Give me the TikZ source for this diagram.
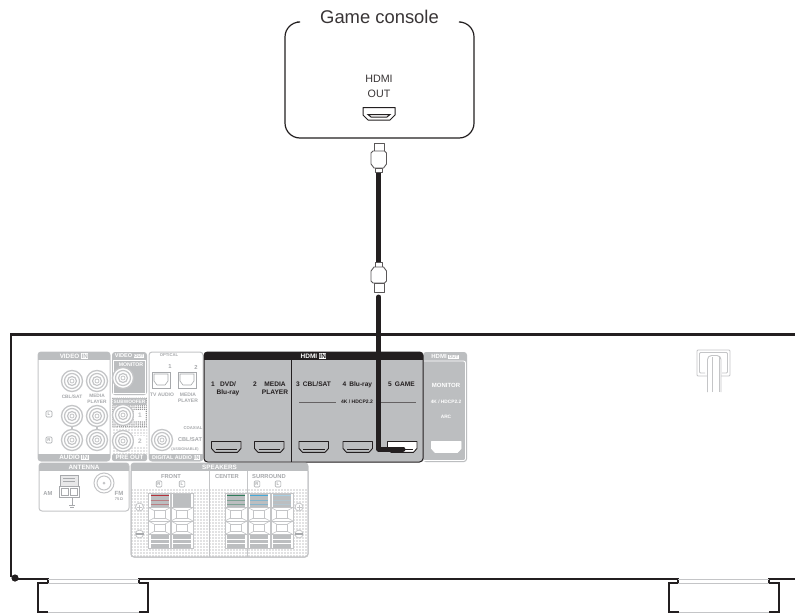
\documentclass[tikz,border=0pt]{standalone}
\usepackage{fontspec}
\setmainfont{Liberation Sans}
\usetikzlibrary{patterns.meta}
\definecolor{panelgray}{HTML}{BCBEC0}
\definecolor{lightline}{HTML}{C4C5C7}
\definecolor{darkink}{HTML}{231F20}
\definecolor{midtext}{HTML}{A7A9AC}
\newcommand\fsz[1]{\fontsize{#1}{#1}\selectfont\setlength{\baselineskip}{1.15\baselineskip}}
\newcommand\invbox[2]{{\setlength{\fboxsep}{0.4pt}\colorbox{white}{\textcolor{#1}{#2}}}}
% RCA jack
\newcommand\rcajack[2]{%
  \draw[lightline,line width=1.3pt,fill=white] (#1,#2) circle (10.5);
  \draw[lightline,line width=1.2pt] (#1,#2) circle (7.5);
  \draw[lightline,line width=1.2pt] (#1,#2) circle (4.5);
  \draw[lightline,line width=.8pt] (#1,#2) circle (2);
}
% HDMI port: x y fill draw
\newcommand\hdmiport[4]{%
  \draw[#4,line width=.9pt,fill=#3,line join=round]
    (#1,#2) -- ++(29.5,0) -- ++(0,7) -- ++(-3.5,3.8) -- ++(-22.5,0) -- ++(-3.5,-3.8) -- cycle;
  \draw[#4,line width=.7pt] (#1+4,#2+7.8) -- ++(21.5,0);
}
% speaker terminal column: x, colour of the top mark
\newcommand\spkcol[2]{%
  \fill[white] (#1,493) rectangle ++(22,55);
  \draw[lightline,line width=.8pt] (#1,493) rectangle ++(22,55);
  \fill[panelgray] (#1+2,494) rectangle ++(18,13);
  \fill[panelgray] (#1+2,535) rectangle ++(18,13);
  \draw[#2,line width=.9pt] (#1+2,495.5) -- ++(18,0);
  \draw[#2!45!panelgray,line width=.7pt] (#1+2,500) -- ++(18,0) (#1+2,504) -- ++(18,0);
  \draw[white,line width=.6pt] (#1+2,539) -- ++(18,0) (#1+2,543) -- ++(18,0);
  \draw[lightline,line width=.8pt] (#1,507.5) -- ++(22,0) (#1,521) -- ++(22,0) (#1,534.5) -- ++(22,0);
  \draw[lightline,line width=.9pt] (#1+5.5,510.5) rectangle ++(11,7.5) (#1+5.5,524) rectangle ++(11,7.5);
  \draw[lightline,line width=.6pt] (#1,507.5) -- (#1+5.5,510.5) (#1+22,507.5) -- (#1+16.5,510.5)
     (#1,521) -- (#1+5.5,518) (#1+22,521) -- (#1+16.5,518)
     (#1,521) -- (#1+5.5,524) (#1+22,521) -- (#1+16.5,524)
     (#1,534.5) -- (#1+5.5,531.5) (#1+22,534.5) -- (#1+16.5,531.5);
}
\newcommand\opticalport[2]{%
  \draw[midtext,line width=.7pt,fill=white] (#1,#2) rectangle ++(18,16);
  \draw[midtext,line width=.6pt] (#1+2,#2+2) -- ++(14,0) -- ++(0,7) -- ++(-3,4) -- ++(-8,0) -- ++(-3,-4) -- cycle;
}
\tikzset{
  chassis/.style={darkink,line width=2.8pt,line cap=butt},
  footgray/.style={lightline,line width=1pt},
  panel/.style={lightline,line width=1pt,fill=white,rounded corners=3pt},
  hdr/.style={fill=panelgray,draw=none},
  head/.style={text=white,font=\fsz{6.3}\bfseries,inner sep=0pt},
  smallwhite/.style={text=white,font=\fsz{5.2}\bfseries,inner sep=0pt,align=center},
  grayt/.style={text=midtext,font=\fsz{5.8}\bfseries,inner sep=0pt,align=center},
  tinygray/.style={text=midtext,font=\fsz{4.2}\bfseries,inner sep=0pt,align=center},
  hdmit/.style={text=darkink,font=\fsz{6.6}\bfseries,inner sep=0pt,align=center},
  plug/.style={draw=darkink!75,line width=.9pt,fill=white,line join=round},
  cablewire/.style={draw=darkink,line width=5pt,line join=round},
}
\begin{document}
\begin{tikzpicture}[x=1pt,y=-1pt]
\useasboundingbox (0,0) rectangle (795,613);
\fill[white] (0,0) rectangle (795,613);

% ---------- game console
\draw[darkink,line width=1.2pt,rounded corners=15pt]
  (461,22) -- (474,22) -- (474,138) -- (285,138) -- (285,22) -- (297,22);
\node[text=darkink!90,font=\fsz{18.4},inner sep=0pt] (gamelabel) at (379.5,16.5) {Game console};
\node[text=darkink!90,font=\fsz{10.7},inner sep=0pt] (hdmilabel) at (379,79) {HDMI};
\node[text=darkink!90,font=\fsz{10.7},inner sep=0pt] (outlabel) at (379,94) {OUT};
\draw[darkink,line width=1pt,fill=white,line join=round]
  (363,107.5) -- (395,107.5) -- (395,115) -- (390,120) -- (368,120) -- (363,115) -- cycle;
\draw[darkink,line width=1pt] (368,114.5) -- (390,114.5) -- (387,117) -- (371,117) -- cycle;

% ---------- chassis
\draw[chassis] (795,334.7) -- (11,334.7) -- (11,577);
\fill[darkink] (15,578) circle (3.6);
\draw[chassis] (13,579) -- (48,579) -- (48,583) -- (38,583) -- (38,612) -- (48,612);
\draw[chassis] (139,612) -- (148,612) -- (148,583) -- (139,583) -- (139,579) -- (678,579) -- (678,583) -- (669,583) -- (669,612) -- (679,612);
\draw[chassis] (769,612) -- (779,612) -- (779,583) -- (769,583) -- (769,579) -- (795,579);
\draw[footgray] (48,579) -- (139,579) (48,583.5) -- (139,583.5) (48,612) -- (139,612);
\draw[footgray] (678,579) -- (769,579) (678,583.5) -- (769,583.5) (679,612) -- (769,612);

% ---------- video / audio in panel
\draw[panel] (38,352) rectangle (110,461);
\begin{scope}
  \clip[rounded corners=3pt] (38,352) rectangle (110,461);
  \fill[hdr] (38,352) rectangle (110,360);
  \fill[hdr] (38,454) rectangle (110,461);
\end{scope}
\node[head] (videoin) at (74,356) {VIDEO \invbox{panelgray}{IN}};
\node[head] (audioin) at (74,457.5) {AUDIO \invbox{panelgray}{IN}};
\draw[lightline,line width=1.6pt] (72,416) -- (72,440) (97,416) -- (97,440);
\rcajack{72}{381}\rcajack{97}{381}\rcajack{72}{416}\rcajack{97}{416}\rcajack{72}{440}\rcajack{97}{440}
\node[tinygray,font=\fsz{4.8}\bfseries] (cblsat1) at (72,396.5) {CBL/SAT};
\node[tinygray,font=\fsz{4.8}\bfseries] (mediapl1) at (97,399) {MEDIA\\PLAYER};
\draw[midtext,line width=.6pt,rounded corners=1pt] (46,411) rectangle ++(6,6);
\node[tinygray] (lmark) at (49,414) {L};
\draw[midtext,line width=.6pt,rounded corners=1pt] (46,437) rectangle ++(6,6);
\node[tinygray] (rmark) at (49,440) {R};

% ---------- video out
\fill[panelgray,rounded corners=3pt] (112,352) rectangle (147,395);
\draw[white,line width=.8pt] (113.5,360.5) rectangle (145.5,393.5);
\node[text=white,font=\fsz{5.6}\bfseries,inner sep=0pt] (videoout) at (129.5,356) {VIDEO \invbox{panelgray}{\fsz{4.5}OUT}};
\node[smallwhite] (monitor1) at (131,365) {MONITOR};
\rcajack{123}{378}

% ---------- pre out
\fill[white,rounded corners=3pt] (112,397) rectangle (147,461);
\fill[pattern={Dots[distance=1.9pt,radius=.65pt]},pattern color=panelgray!70!black] (112,397) rectangle (147,427);
\fill[pattern={Dots[distance=3pt,radius=.65pt]},pattern color=panelgray!75!black] (112,427) rectangle (147,454);
\fill[hdr] (113,398) rectangle (146,405);
\node[text=white,font=\fsz{4.8}\bfseries,inner sep=0pt] (subwoofer) at (129.5,401.5) {SUBWOOFER};
\fill[panelgray,rounded corners=2pt] (112,454) rectangle (147,461);
\node[head] (preout) at (129.5,457.5) {PRE OUT};
\rcajack{123}{415}\rcajack{123}{441}
\fill[white] (134,410) rectangle (145,421);
\node[text=panelgray,font=\fsz{6.5}\bfseries,inner sep=0pt] (sub1) at (140,415.5) {1};
\fill[white] (134,436) rectangle (145,447);
\node[text=panelgray,font=\fsz{6.5}\bfseries,inner sep=0pt] (sub2) at (140,441.5) {2};

% ---------- digital audio in
\draw[panel] (149,352) rectangle (203,461);
\begin{scope}
  \clip[rounded corners=3pt] (149,352) rectangle (203,461);
  \fill[hdr] (149,454) rectangle (203,461);
\end{scope}
\node[tinygray] (optical) at (169,355.5) {OPTICAL};
\node[grayt] (opt1) at (170,367) {1};
\node[grayt] (opt2) at (196,367) {2};
\opticalport{152}{372}\opticalport{178}{372}
\node[tinygray,font=\fsz{5}\bfseries] (tvaudio) at (162,395) {TV AUDIO};
\node[tinygray,font=\fsz{5}\bfseries] (mediapl2) at (188,398) {MEDIA\\PLAYER};
\rcajack{162}{440}
\node[tinygray] (coaxial) at (193,428) {COAXIAL};
\node[grayt,font=\fsz{5.6}\bfseries] (cblsat2) at (190,440) {CBL/SAT};
\node[tinygray,font=\fsz{3.8}\bfseries] (assign) at (185,450) {(ASSIGNABLE)};
\node[text=white,font=\fsz{5.4}\bfseries,inner sep=0pt] (digin) at (176,457.5) {DIGITAL AUDIO \invbox{panelgray}{IN}};

% ---------- HDMI out
\fill[panelgray,rounded corners=3pt] (423,352) rectangle (467,462);
\draw[white,line width=.9pt,rounded corners=2pt] (424,361) -- (465.5,361) -- (465.5,460.5) -- (424,460.5);
\node[text=white,font=\fsz{6}\bfseries,inner sep=0pt] (hdmiout) at (445,356.5) {HDMI \invbox{panelgray}{\fsz{4.5}OUT}};
\node[smallwhite,font=\fsz{6}\bfseries] (monitor2) at (446,385) {MONITOR};
\node[smallwhite,font=\fsz{4.8}\bfseries] (hdcpout) at (446,402) {4K / HDCP2.2};
\node[smallwhite,font=\fsz{4.8}\bfseries] (arc) at (446,417) {ARC};
\hdmiport{431.5}{441.5}{white}{white}

% ---------- HDMI in
\draw[darkink,line width=1pt,fill=panelgray,rounded corners=3.5pt] (204,352) rectangle (423,462);
\begin{scope}
  \clip[rounded corners=3.5pt] (204,352) rectangle (423,462);
  \fill[darkink] (204,352) rectangle (423,360);
\end{scope}
\draw[darkink,line width=.8pt] (291,360) -- (291,462);
\node[text=white,font=\fsz{6.5}\bfseries,inner sep=0pt] (hdmiin) at (313.5,356) {HDMI \invbox{darkink}{IN}};
\node[hdmit,anchor=north west] (in1a) at (211,382) {1};
\node[hdmit,anchor=north] (in1b) at (228,382) {DVD/\\Blu-ray};
\node[hdmit,anchor=north west] (in2a) at (253,382) {2};
\node[hdmit,anchor=north] (in2b) at (275,382) {MEDIA\\PLAYER};
\node[hdmit,anchor=north west] (in3) at (296,382) {3\hspace{3pt}CBL/SAT};
\node[hdmit,anchor=north west] (in4) at (342.5,382) {4\hspace{3pt}Blu-ray};
\node[hdmit,anchor=north west] (in5) at (388,382) {5\hspace{3pt}GAME};
\node[text=darkink,font=\fsz{5}\bfseries,inner sep=0pt] (hdcpin) at (357,402) {4K / HDCP2.2};
\draw[darkink!70,line width=.9pt] (299,402) -- (336,402) (381,402) -- (416,402);
\hdmiport{211.5}{441.5}{panelgray}{darkink}
\hdmiport{254.5}{441.5}{panelgray}{darkink}
\hdmiport{299}{441.5}{panelgray}{darkink}
\hdmiport{343}{441.5}{panelgray}{darkink}
\hdmiport{387.5}{441.5}{white}{darkink}

% ---------- antenna
\draw[panel] (39,463) rectangle (129,511);
\begin{scope}
  \clip[rounded corners=3pt] (39,463) rectangle (129,511);
  \fill[hdr] (39,463) rectangle (129,471);
\end{scope}
\node[head] (antenna) at (84,467.5) {ANTENNA};
\node[grayt] (amlabel) at (48,493.5) {AM};
\draw[midtext,line width=.8pt,fill=panelgray!35] (60,475) rectangle (78,486);
\draw[midtext,line width=.7pt] (63,478) -- (75,478) (63,481) -- (75,481);
\draw[midtext,line width=.9pt,fill=white] (59,486) rectangle (79,497);
\draw[midtext,line width=.7pt] (61,488) rectangle (68,495) (70,488) rectangle (77,495);
\draw[midtext,line width=.7pt] (72,497) -- (72,505) (69,505) -- (75,505) (70,507) -- (74,507);
\draw[lightline,line width=1pt] (104,483) circle (10) circle (7);
\fill[lightline] (104,483) circle (1.5);
\node[grayt,font=\fsz{6}\bfseries] (fmlabel) at (119,493) {FM};
\node[tinygray,font=\fsz{4}\bfseries] (ohm) at (119,499.5) {75\,Ω};

% ---------- speakers
\draw[panel] (131,463) rectangle (308,557);
\fill[pattern={Dots[distance=3pt,radius=.65pt]},pattern color=panelgray!70!black] (131.5,488) rectangle (307.5,556);
\begin{scope}
  \clip[rounded corners=3pt] (131,463) rectangle (308,557);
  \fill[hdr] (131,463) rectangle (308,471);
\end{scope}
\draw[lightline,line width=1pt,rounded corners=3pt] (131,471) -- (131,557) -- (308,557) -- (308,471);
\node[head] (speakers) at (219.5,467.5) {SPEAKERS};
\draw[lightline,line width=.8pt] (209,471) -- (209,557) (247,471) -- (247,557);
\node[grayt] (front) at (171,476.5) {FRONT};
\node[grayt] (center) at (227,476.5) {CENTER};
\node[grayt] (surround) at (269,476.5) {SURROUND};
\foreach \nm/\px/\tx in {fr/159/R,fl/182/L,sr/257/R,sl/278/L}{
  \draw[midtext,line width=.6pt,rounded corners=1pt] (\px-2.8,481) rectangle ++(5.6,6);
  \node[tinygray] (mark\nm) at (\px,484) {\tx};
}
\definecolor{spkred}{HTML}{B5323A}
\definecolor{spkgreen}{HTML}{2E7D5B}
\definecolor{spkblue}{HTML}{45A9D8}
\definecolor{spkpale}{HTML}{A9CFE2}
\spkcol{148.5}{spkred}\spkcol{171}{panelgray}
\spkcol{225}{spkgreen}\spkcol{248}{spkblue}\spkcol{271}{spkpale}
\foreach \sx in {139.5,299}{
  \draw[lightline,line width=.8pt,fill=white] (\sx,507) circle (4);
  \draw[lightline,line width=.8pt] (\sx-2.5,507) -- (\sx+2.5,507) (\sx,504.5) -- (\sx,509.5);
  \draw[lightline,line width=.8pt,fill=white] (\sx,534) circle (4);
  \draw[midtext,line width=1.2pt] (\sx-4,534) -- (\sx+4,534);
}

% ---------- power cord
\draw[lightline,line width=.9pt,rounded corners=1pt] (697,350) rectangle (730,376);
\draw[lightline,line width=.8pt,rounded corners=1pt] (705,373) -- (699.5,373) -- (699.5,352.5) -- (727.5,352.5) -- (727.5,373) -- (722,373);
\draw[lightline,line width=.9pt,fill=white,rounded corners=4pt] (707.5,392) -- (707.5,355.5) -- (721,355.5) -- (721,392);
\draw[lightline,line width=.8pt,rounded corners=3pt] (712.5,392) -- (712.5,356.5);
\draw[lightline,line width=.8pt] (719,392) -- (719,356.5);

% ---------- cable
\coordinate (plugatop) at (378.7,143);
\coordinate (plugacol) at (378.7,173);
\coordinate (plugbcol) at (378.7,262);
\coordinate (plugbtip) at (378.7,293);
\coordinate (wirestart) at (378.7,297);
\coordinate (wirebend) at (378.7,449);
\coordinate (wireend) at (403,449);
\draw[cablewire,line cap=butt] (plugacol) -- (plugbcol);
\draw[cablewire,line cap=round] (wirestart) -- (wirebend) -- (wireend);
\draw[plug] (374,143) rectangle (384,151);
\draw[plug] (373,151) -- (384.5,151) -- (386.5,153) -- (386.5,164) -- (383.5,168) -- (374,168) -- (371,164) -- (371,153) -- cycle;
\draw[plug] (375,168) rectangle (382.5,172.5);
\draw[plug] (375,262) rectangle (382.5,267);
\draw[plug] (374,267) -- (383.5,267) -- (386.5,271) -- (386.5,281) -- (384.5,283) -- (373,283) -- (371,281) -- (371,271) -- cycle;
\draw[plug] (374,283) rectangle (384,292);
\end{tikzpicture}
\end{document}
